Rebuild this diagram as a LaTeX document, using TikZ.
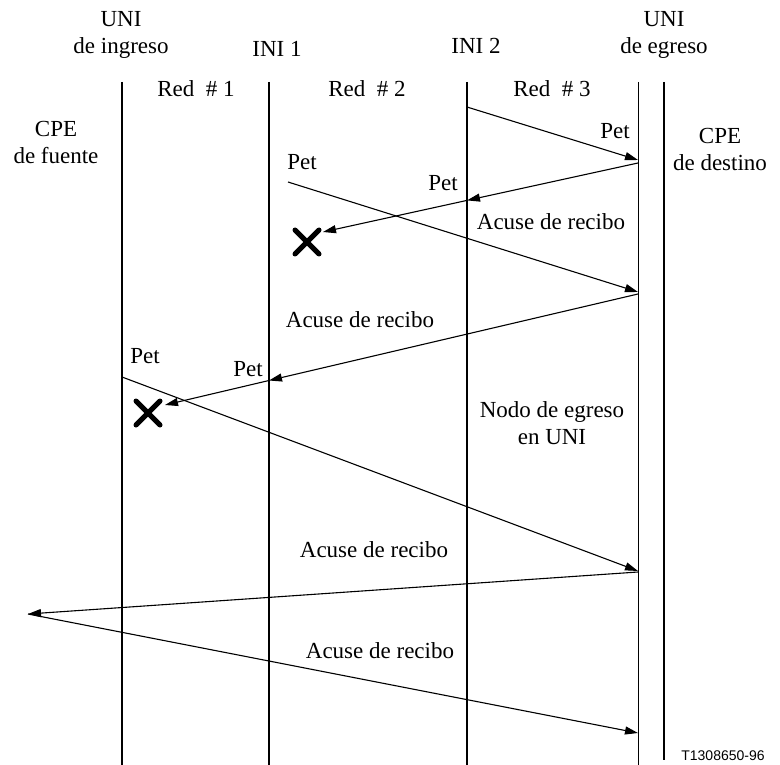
\documentclass[tikz,border=0pt]{standalone}
\usepackage{fontspec}
\setmainfont{Liberation Serif}
\newfontfamily\labelsans{Liberation Sans}
\usetikzlibrary{arrows.meta,calc}
\begin{document}
\begin{tikzpicture}[x=1pt,y=-1pt,
  txt/.style={font=\fontsize{23}{27}\selectfont, inner sep=0pt, align=center},
  life/.style={line width=1.8pt},
  thinlife/.style={line width=0.9pt},
  msg/.style={line width=1.1pt, -{Triangle[length=13pt,width=8pt]}},
  cross/.style={line width=5pt, line cap=round}]
\useasboundingbox (0,0) rectangle (780,765);
\fill[white] (0,0) rectangle (780,765);
% lifelines
\coordinate (L1t) at (122,82); \coordinate (L1b) at (122,765);
\coordinate (L2t) at (269,82); \coordinate (L2b) at (269,765);
\coordinate (L3t) at (467,82); \coordinate (L3b) at (467,765);
\coordinate (L4t) at (638,82); \coordinate (L4b) at (638,765);
\coordinate (L5t) at (664,82); \coordinate (L5b) at (664,760);
\draw[life] (L1t) -- (L1b);
\draw[life] (L2t) -- (L2b);
\draw[life] (L3t) -- (L3b);
\draw[thinlife] (L4t) -- (L4b);
\draw[life] (L5t) -- (L5b);
% header labels
\node[txt] (uniin) at (121,35) {UNI\\de ingreso};
\node[txt] (ini1) at (277,49) {INI 1};
\node[txt] (ini2) at (476,46) {INI 2};
\node[txt] (uniout) at (664,35) {UNI\\de egreso};
\node[txt] (red1) at (196,89) {Red\ \ \# 1};
\node[txt] (red2) at (367,89) {Red\ \ \# 2};
\node[txt] (red3) at (552,89) {Red\ \ \# 3};
\node[txt] (cpef) at (56,142) {CPE\\de fuente};
\node[txt] (cped) at (720,149) {CPE\\de destino};
% message points
\coordinate (a1s) at (467,107);
\coordinate (a1e) at (638,160);
\coordinate (a2s) at (638,163);
\coordinate (a2m) at (467,200.4);
\coordinate (a2e) at (323,232);
\coordinate (a3s) at (288,182);
\coordinate (a3e) at (638,292);
\coordinate (a4s) at (638,294);
\coordinate (a4m) at (269,380.5);
\coordinate (a4e) at (165,405);
\coordinate (a5s) at (122,377);
\coordinate (a5e) at (638,571);
\coordinate (a6s) at (638,572);
\coordinate (a6e) at (28,614);
\coordinate (a7e) at (638,733);
% messages
\draw[msg] (a1s) -- (a1e);
\draw[msg] (a2s) -- (a2m);
\draw[msg] (a2m) -- (a2e);
\draw[msg] (a3s) -- (a3e);
\draw[msg] (a4s) -- (a4m);
\draw[msg] (a4m) -- (a4e);
\draw[msg] (a5s) -- (a5e);
\draw[msg] (a6s) -- (a6e);
\draw[msg] (a6e) -- (a7e);
% crosses
\coordinate (x1) at (307,242);
\coordinate (x2) at (148,413);
\draw[cross] ($(x1)+(-12,-12)$) -- ($(x1)+(12,12)$) ($(x1)+(-12,12)$) -- ($(x1)+(12,-12)$);
\draw[cross] ($(x2)+(-12,-12)$) -- ($(x2)+(12,12)$) ($(x2)+(-12,12)$) -- ($(x2)+(12,-12)$);
% message labels
\node[txt] (p1) at (615,131) {Pet};
\node[txt] (p2) at (443,183) {Pet};
\node[txt] (p3) at (302,162) {Pet};
\node[txt] (p4) at (248,369) {Pet};
\node[txt] (p5) at (145,356) {Pet};
\node[txt] (ack1) at (551,222) {Acuse de recibo};
\node[txt] (ack2) at (360,320) {Acuse de recibo};
\node[txt] (ack3) at (374,550) {Acuse de recibo};
\node[txt] (ack4) at (380,651) {Acuse de recibo};
\node[txt] (nodo) at (552,423) {Nodo de egreso\\en UNI};
\node[font=\labelsans\fontsize{14}{16}\selectfont, inner sep=0pt] (ref) at (723,756) {T1308650-96};
\end{tikzpicture}
\end{document}
